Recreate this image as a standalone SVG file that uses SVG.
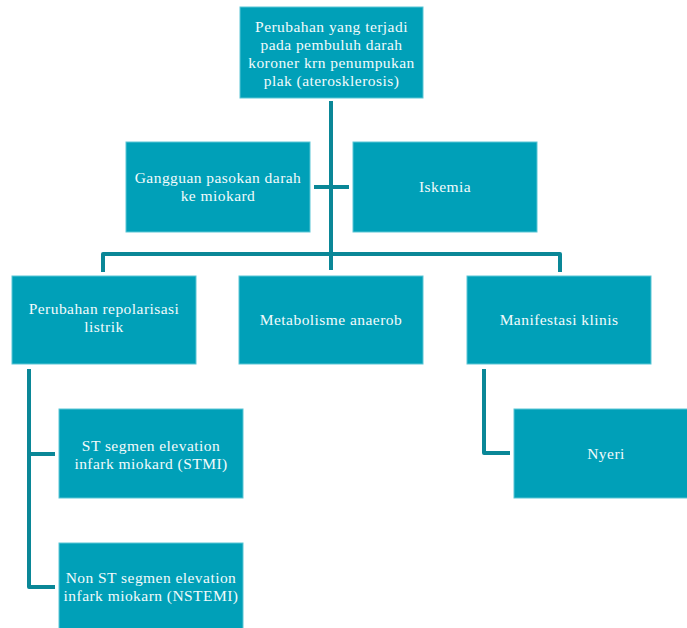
<svg xmlns="http://www.w3.org/2000/svg" width="687" height="628" viewBox="0 0 687 628">
<style>
.box{fill:#00A0B8;stroke:#5AC6D5;stroke-width:1}
.t{font-family:"Liberation Serif","DejaVu Serif",serif;font-size:15.5px;letter-spacing:0.45px;fill:#F2FBFC;text-anchor:middle}
.c{fill:none;stroke:#0A8797;stroke-width:4;stroke-linejoin:round}
</style>
<rect width="687" height="628" fill="#ffffff"/>
<g id="connectors">
<path class="c" d="M331 101 V270"/>
<path class="c" d="M314 187 H349"/>
<path class="c" d="M103 272 V254 H560 V272"/>
<path class="c" d="M29 369 V587 H55"/>
<path class="c" d="M29 454 H55"/>
<path class="c" d="M484 369 V453 H510"/>
</g>
<g id="n1"><rect class="box" x="240" y="7" width="183" height="91"/>
<text class="t" x="331.5" y="32">Perubahan yang terjadi</text>
<text class="t" x="331.5" y="50">pada pembuluh darah</text>
<text class="t" x="331.5" y="68">koroner krn penumpukan</text>
<text class="t" x="331.5" y="86">plak (aterosklerosis)</text></g>
<g id="n2"><rect class="box" x="126" y="142" width="184" height="90"/>
<text class="t" x="218" y="183">Gangguan pasokan darah</text>
<text class="t" x="218" y="201">ke miokard</text></g>
<g id="n3"><rect class="box" x="353" y="142" width="184" height="90"/>
<text class="t" x="445" y="192">Iskemia</text></g>
<g id="n4"><rect class="box" x="12" y="276" width="184" height="88"/>
<text class="t" x="104" y="314">Perubahan repolarisasi</text>
<text class="t" x="104" y="332">listrik</text></g>
<g id="n5"><rect class="box" x="239" y="276" width="184" height="88"/>
<text class="t" x="331" y="325">Metabolisme anaerob</text></g>
<g id="n6"><rect class="box" x="467" y="276" width="184" height="88"/>
<text class="t" x="559" y="325">Manifestasi klinis</text></g>
<g id="n7"><rect class="box" x="59" y="409" width="184" height="89"/>
<text class="t" x="151" y="451">ST segmen elevation</text>
<text class="t" x="151" y="469">infark miokard (STMI)</text></g>
<g id="n8"><rect class="box" x="59" y="543" width="184" height="90"/>
<text class="t" x="151" y="583">Non ST segmen elevation</text>
<text class="t" x="151" y="601">infark miokarn (NSTEMI)</text></g>
<g id="n9"><rect class="box" x="514" y="409" width="184" height="89"/>
<text class="t" x="606" y="459">Nyeri</text></g>
</svg>
